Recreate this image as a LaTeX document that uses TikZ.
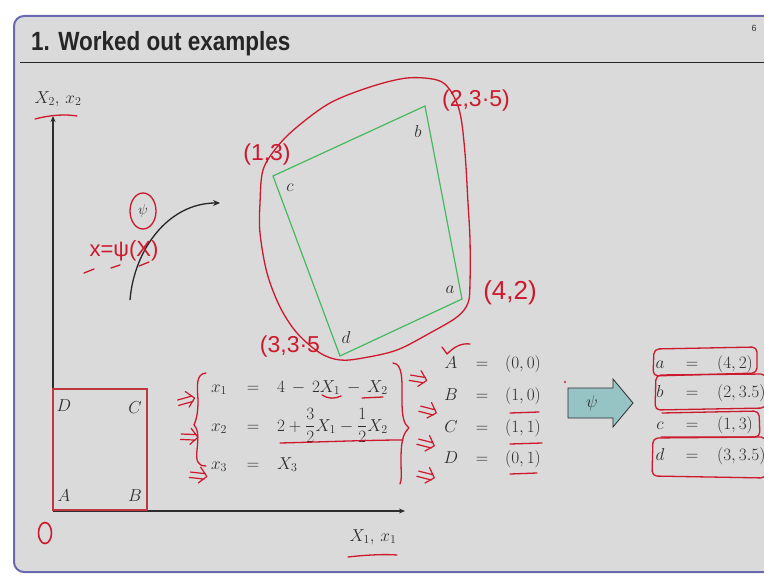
\documentclass[tikz,border=0pt]{standalone}
\usepackage{fontspec}
\newfontfamily\titlefont{Liberation Sans}
\newfontfamily\handfont{Liberation Sans}
\usetikzlibrary{arrows.meta}
\definecolor{slidebg}{RGB}{218,218,218}
\definecolor{frameblue}{RGB}{105,105,175}
\definecolor{ink}{RGB}{205,25,45}
\definecolor{quadgreen}{RGB}{70,185,95}
\definecolor{sqred}{RGB}{190,55,65}
\definecolor{arrowfill}{RGB}{150,195,195}
\definecolor{txt}{RGB}{45,45,45}
\begin{document}
\begin{tikzpicture}[x=1pt,y=-1pt,
  mt/.style={font=\fontsize{17.5}{21}\selectfont, inner sep=0pt, text=txt},
  hand/.style={draw=ink, line width=1.3pt, line cap=round, line join=round},
  handtxt/.style={text=ink, font=\handfont\fontsize{23}{27}\selectfont, inner sep=0pt},
  himp/.pic={\draw[ink, line width=1.2pt, line cap=round, line join=round]
     (0,-2)--(15,-3.5) (0,3.5)--(15,2) (9,-9)--(17,-1)--(10,7);}
]
\useasboundingbox (0,0) rectangle (764,578);
\fill[white] (0,0) rectangle (764,578);
% slide frame
\draw[frameblue, line width=2pt, fill=slidebg, rounded corners=10pt] (14,16) rectangle (800,572);
\node[anchor=base west, font=\titlefont\bfseries\fontsize{22.5}{27}\selectfont, inner sep=0pt, text=black!85] (title) at (31,50.5) {\scalebox{1}[1.17]{1. Worked out examples}};
\node[font=\titlefont\fontsize{9}{11}\selectfont, inner sep=0pt, text=black!80] (pnum) at (754,28) {6};
\coordinate (rl) at (20,62.5);
\coordinate (rr) at (764,62.5);
\draw[black!85, line width=1.6pt] (rl) -- (rr);

% axes
\coordinate (O) at (53,511);
\coordinate (xend) at (405,511);
\coordinate (yend) at (53,116);
\draw[txt, line width=1.3pt, -{Stealth[length=6pt,width=5pt]}] (O) -- (xend);
\draw[txt, line width=1.3pt, -{Stealth[length=6pt,width=5pt]}] (O) -- (yend);
\node[mt] (ylab) at (58,99) {$X_2,\, x_2$};
\node[mt] (xlab) at (373,537) {$X_1,\, x_1$};

% reference square
\coordinate (sA) at (53,510);
\coordinate (sC) at (147,389);
\draw[sqred, line width=1.2pt] (sA) rectangle (sC);
\node[mt] (lD) at (64,406) {$D$};
\node[mt] (lC) at (135,408) {$C$};
\node[mt] (lA) at (64,496) {$A$};
\node[mt] (lB) at (135,496) {$B$};

% deformed quadrilateral
\coordinate (qa) at (462,299);
\coordinate (qb) at (425,106);
\coordinate (qc) at (273,176);
\coordinate (qd) at (340,356);
\draw[quadgreen, line width=1.2pt] (qa) -- (qb) -- (qc) -- (qd) -- cycle;
\node[mt] (la) at (450,290) {$a$};
\node[mt] (lb) at (418,132) {$b$};
\node[mt] (lc) at (290,188) {$c$};
\node[mt] (ld) at (346,337) {$d$};

% mapping arrow
\coordinate (m0) at (130,300);
\coordinate (m1) at (220,203);
\draw[black!85, line width=1.3pt, -{Stealth[length=7pt,width=6pt]}] (m0) .. controls (134,250) and (168,203) .. (m1);
\node[mt, font=\fontsize{14}{16}\selectfont] (psi) at (143,211) {$\psi$};

% equations
\node[mt, anchor=base] (x1) at (219,392) {$x_1$};
\node[mt, anchor=base] (x2) at (219,431) {$x_2$};
\node[mt, anchor=base] (x3) at (219,469) {$x_3$};
\node[mt, anchor=base] (e1) at (253,392) {$=$};
\node[mt, anchor=base] (e2) at (253,431) {$=$};
\node[mt, anchor=base] (e3) at (253,469) {$=$};
\node[mt, anchor=base west] (r1) at (277,392) {$4 \mathbin{\,-\,} 2X_1 \mathbin{\,-\,} X_2$};
\node[mt, anchor=base west] (r2) at (277,431) {$\displaystyle 2 + \frac{3}{2}X_1 - \frac{1}{2}X_2$};
\node[mt, anchor=base west] (r3) at (277,469) {$X_3$};

% reference vertices
\foreach \nm/\val/\yy in {A/{(0,0)}/368.5, B/{(1,0)}/400, C/{(1,1)}/432, D/{(0,1)}/463.5}{
  \node[mt, anchor=base] (n\nm) at (451,\yy) {$\nm$};
  \node[mt, anchor=base] (q\nm) at (482,\yy) {$=$};
  \node[mt, anchor=base west] (v\nm) at (505,\yy) {$\val$};
}

% psi block arrow
\draw[txt, line width=0.8pt, fill=arrowfill] (568,388) -- (613,388) -- (613,379) -- (633,403) -- (613,427) -- (613,418) -- (568,418) -- cycle;
\node[mt] (bpsi) at (592,403) {$\psi$};

% deformed vertices
\foreach \nm/\val/\yy in {a/{(4,2)}/368, b/{(2,3.5)}/397, c/{(1,3)}/429, d/{(3,3.5)}/460}{
  \node[mt, anchor=base] (n\nm) at (660,\yy) {$\nm$};
  \node[mt, anchor=base] (q\nm) at (692,\yy) {$=$};
  \node[mt, anchor=base west] (v\nm) at (717,\yy) {$\val$};
}

% ---------------- handwritten annotations ----------------
\draw[hand] plot[smooth cycle, tension=0.55] coordinates {
 (260,203) (263,170) (277,147) (297,127) (330,103) (370,87) (407,78) (437,80)
 (450,90) (460,113) (465,153) (468,203) (470,240) (470,283) (468,303) (457,317)
 (430,333) (397,350) (363,358) (340,360) (320,353) (297,333) (280,307) (267,273) (260,233)};
\node[handtxt] (h1) at (476,101) {(2,3·5)};
\node[handtxt] (h2) at (267,155) {(1,3)};
\node[handtxt, font=\handfont\fontsize{26}{30}\selectfont] (h3) at (510,293) {(4,2)};
\node[handtxt] (h4) at (290,347) {(3,3·5};
\draw[hand] (35,119) .. controls (50,115) and (65,114) .. (77,116);
\draw[hand] (348,557) .. controls (365,555) and (385,554) .. (397,555);
\draw[ink, line width=1.6pt] (45,533) ellipse [x radius=6.5, y radius=10.5];
\draw[hand] (psi) ellipse [x radius=13, y radius=18];
\node[handtxt, font=\handfont\fontsize{22}{26}\selectfont] (xpsi) at (124,251) {x=ψ(X)};
\draw[hand] (84,273) -- (94,269) (111,268) -- (120,265) (139,266) -- (149,262);
% braces
\draw[hand] (206,373) .. controls (196,374) and (197,385) .. (198,400)
  .. controls (198,415) and (196,420) .. (194,425) .. controls (199,430) and (198,440) .. (197,450)
  .. controls (196,460) and (197,466) .. (206,466);
\pic[rotate=10] at (178,402) {himp};
\pic[rotate=-8] at (181,436) {himp};
\pic[rotate=-12] at (190,474) {himp};
\draw[hand] (393,363) .. controls (403,364) and (402,380) .. (402,400)
  .. controls (402,418) and (404,424) .. (409,428) .. controls (402,434) and (401,445) .. (401,460)
  .. controls (401,472) and (402,480) .. (400,484);
\pic[rotate=-15] at (410,377) {himp};
\pic[rotate=-20] at (420,408) {himp};
\pic[rotate=-20] at (418,441) {himp};
\pic[rotate=-20] at (418,473) {himp};
\draw[hand] (442,347) .. controls (444,350) and (446,352) .. (447,354) .. controls (455,346) and (462,343) .. (470,344);
% underlines
\draw[hand] (322,395) .. controls (328,399) and (335,399) .. (341,396);
\draw[hand] (362,398) -- (383,397);
\draw[hand] (280,443) .. controls (320,442) and (370,440) .. (403,440);
\draw[hand] (510,413) -- (539,412);
\draw[hand] (510,444) -- (542,443);
\draw[hand] (510,474) -- (537,473);
\fill[ink] (565,382) circle (1.2);
% boxes on the right
\draw[hand, rounded corners=5pt] (654,349) -- (757,347) -- (757,373) -- (653,376) -- cycle;
\draw[hand, rounded corners=5pt] (656,375) -- (766,374) -- (766,408) -- (655,410) -- cycle;
\draw[hand, rounded corners=5pt] (662,413) -- (759,411) -- (760,437) -- (661,437);
\draw[hand, rounded corners=5pt] (653,438) -- (766,437) -- (766,478) -- (652,476) -- cycle;
\end{tikzpicture}
\end{document}
